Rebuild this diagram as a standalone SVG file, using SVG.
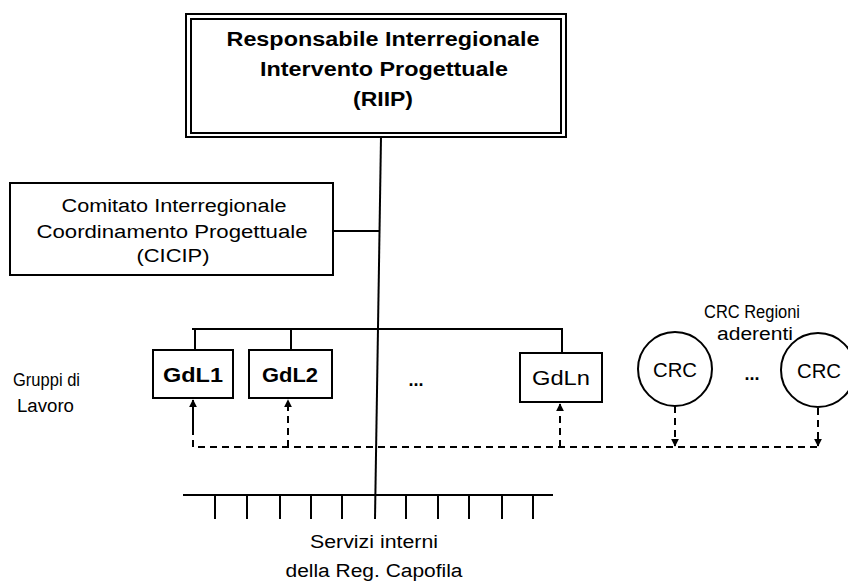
<svg xmlns="http://www.w3.org/2000/svg" width="848" height="584" viewBox="0 0 848 584">
<style>
text{font-family:"Liberation Sans",Arial,sans-serif;fill:#000}
.b{font-weight:bold}
.box{fill:#fff;stroke:#000;stroke-width:2}
.ln{stroke:#000;stroke-width:2;fill:none}
.dash{stroke:#000;stroke-width:2;fill:none;stroke-dasharray:7 5}
</style>
<defs>
<marker id="ah" viewBox="0 0 10 10" refX="9" refY="5" markerWidth="4" markerHeight="4" orient="auto" markerUnits="strokeWidth">
<path d="M0,0 L10,5 L0,10 z" fill="#000"/>
</marker>
</defs>
<rect width="848" height="584" fill="#fff"/>
<g id="connectors">
<line class="ln" x1="381" y1="137" x2="375" y2="519"/>
<line class="ln" x1="333" y1="231" x2="380" y2="231"/>
<line class="ln" x1="192" y1="329" x2="563" y2="329"/>
<line class="ln" x1="195" y1="329" x2="195" y2="350"/>
<line class="ln" x1="291" y1="329" x2="291" y2="350"/>
<line class="ln" x1="562" y1="329" x2="562" y2="353"/>
<line class="ln" x1="183" y1="495" x2="553" y2="495"/>
<path class="ln" d="M215,495v24M247,495v24M280,495v24M311,495v24M342,495v24M406,495v24M438,495v24M469,495v24M502,495v24M533,495v24"/>
<polyline class="dash" points="193,404 193,447 818,447"/>
<line class="dash" x1="193" y1="430" x2="193" y2="400" marker-end="url(#ah)"/>
<line class="dash" x1="288" y1="447" x2="288" y2="400" marker-end="url(#ah)"/>
<line class="dash" x1="560" y1="447" x2="560" y2="404" marker-end="url(#ah)"/>
<line class="dash" x1="675" y1="406" x2="675" y2="446" marker-end="url(#ah)"/>
<line class="dash" x1="818" y1="408" x2="818" y2="446" marker-end="url(#ah)"/>
</g>
<g id="riip">
<rect class="box" x="186" y="14" width="380" height="123" stroke-width="2.5"/>
<rect class="box" x="191" y="19" width="370" height="114"/>
<text class="b" x="383" y="46" font-size="20" text-anchor="middle" textLength="313" lengthAdjust="spacingAndGlyphs">Responsabile Interregionale</text>
<text class="b" x="384" y="76" font-size="20" text-anchor="middle" textLength="248" lengthAdjust="spacingAndGlyphs">Intervento Progettuale</text>
<text class="b" x="383" y="106" font-size="20" text-anchor="middle" textLength="60" lengthAdjust="spacingAndGlyphs">(RIIP)</text>
</g>
<g id="cicip">
<rect class="box" x="10" y="183" width="323" height="92"/>
<text x="174" y="212" font-size="18" text-anchor="middle" textLength="225" lengthAdjust="spacingAndGlyphs">Comitato Interregionale</text>
<text x="172" y="238" font-size="18" text-anchor="middle" textLength="271" lengthAdjust="spacingAndGlyphs">Coordinamento  Progettuale</text>
<text x="173" y="262" font-size="18" text-anchor="middle" textLength="73" lengthAdjust="spacingAndGlyphs">(CICIP)</text>
</g>
<g id="gruppi-label">
<text x="13" y="386" font-size="18" textLength="67" lengthAdjust="spacingAndGlyphs">Gruppi di</text>
<text x="17" y="412" font-size="18" textLength="57" lengthAdjust="spacingAndGlyphs">Lavoro</text>
</g>
<g id="gdl1">
<rect class="box" x="153" y="350" width="80" height="48"/>
<text class="b" x="193" y="382" font-size="20" text-anchor="middle" textLength="60" lengthAdjust="spacingAndGlyphs">GdL1</text>
</g>
<g id="gdl2">
<rect class="box" x="249" y="350" width="83" height="48"/>
<text class="b" x="290" y="382" font-size="20" text-anchor="middle" textLength="56" lengthAdjust="spacingAndGlyphs">GdL2</text>
</g>
<g id="dots-gdl">
<text class="b" x="416" y="386" font-size="18" text-anchor="middle">...</text>
</g>
<g id="gdln">
<rect class="box" x="520" y="353" width="82" height="49"/>
<text x="561" y="385" font-size="20" text-anchor="middle" textLength="58" lengthAdjust="spacingAndGlyphs">GdLn</text>
</g>
<g id="crc-label">
<text x="752" y="318" font-size="18" text-anchor="middle" textLength="96" lengthAdjust="spacingAndGlyphs">CRC Regioni</text>
<text x="755" y="340" font-size="18" text-anchor="middle" textLength="76" lengthAdjust="spacingAndGlyphs">aderenti</text>
</g>
<g id="crc1">
<circle class="box" cx="675" cy="369" r="37"/>
<text x="675" y="377" font-size="20" text-anchor="middle" textLength="44" lengthAdjust="spacingAndGlyphs">CRC</text>
</g>
<g id="dots-crc">
<text class="b" x="752" y="380" font-size="18" text-anchor="middle">...</text>
</g>
<g id="crc2">
<circle class="box" cx="818" cy="370" r="37"/>
<text x="819" y="378" font-size="20" text-anchor="middle" textLength="44" lengthAdjust="spacingAndGlyphs">CRC</text>
</g>
<g id="servizi">
<text x="374" y="548" font-size="18" text-anchor="middle" textLength="128" lengthAdjust="spacingAndGlyphs">Servizi interni</text>
<text x="374" y="577" font-size="18" text-anchor="middle" textLength="177" lengthAdjust="spacingAndGlyphs">della Reg. Capofila</text>
</g>
</svg>
